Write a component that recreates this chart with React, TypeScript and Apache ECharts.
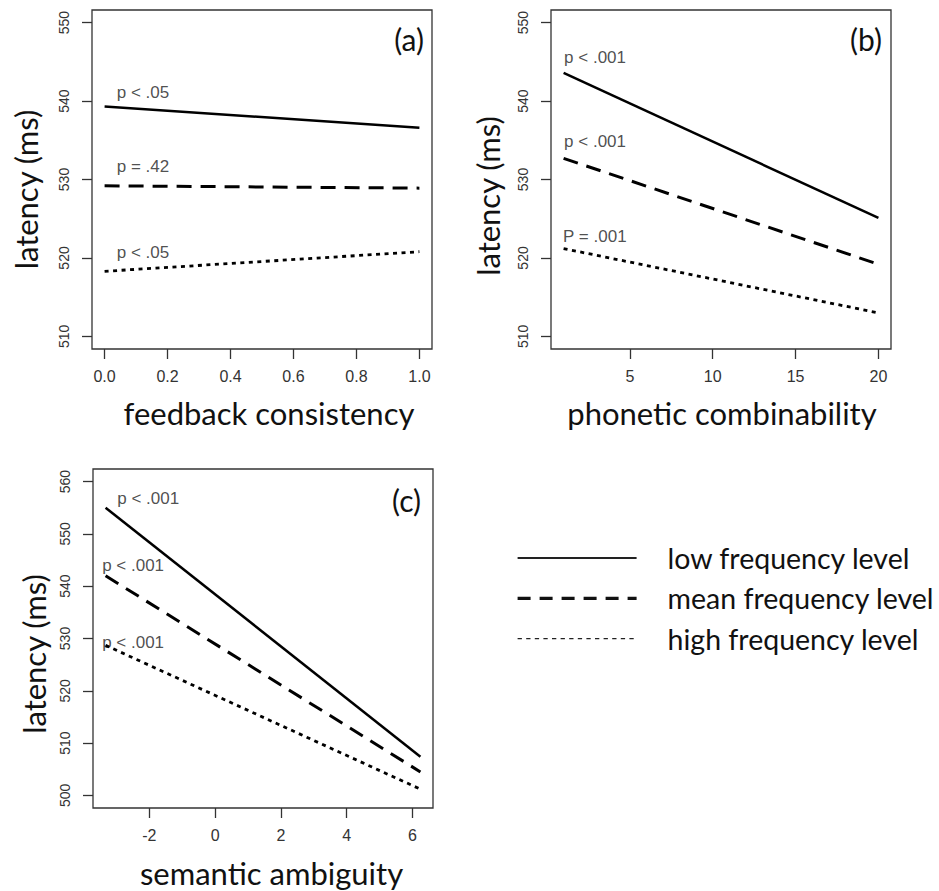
import React, { useEffect, useRef } from "react";
import * as echarts from "echarts";

// ---------- data ----------
const LEVELS = ["low frequency level", "mean frequency level", "high frequency level"];

// panel (a) feedback consistency
const xA = [0, 1];
const lowA = [539.3, 536.6];
const meanA = [529.2, 528.9];
const highA = [518.3, 520.8];
const pTextA = ["p < .05", "p = .42", "p < .05"];
const pXA = [0.037, 0.037, 0.037];
const pYA = [541.1, 531.6, 520.7];

// panel (b) phonetic combinability
const xB = [1, 20];
const lowB = [543.6, 525.1];
const meanB = [532.7, 519.2];
const highB = [521.2, 513.0];
const pTextB = ["p < .001", "p < .001", "P = .001"];
const pXB = [1.0, 1.0, 0.94];
const pYB = [545.6, 534.8, 522.8];

// panel (c) semantic ambiguity
const xC = [-3.33, 6.24];
const lowC = [555.0, 507.4];
const meanC = [542.0, 504.5];
const highC = [528.7, 501.2];
const pTextC = ["p < .001", "p < .001", "p < .001"];
const pXC = [-2.99, -3.45, -3.45];
const pYC = [556.7, 543.9, 529.2];

// tick labels
const ticksXA = [0, 0.2, 0.4, 0.6, 0.8, 1.0];
const ticksXB = [5, 10, 15, 20];
const ticksXC = [-2, 0, 2, 4, 6];
const ticksYAB = [510, 520, 530, 540, 550];
const ticksYC = [500, 510, 520, 530, 540, 550, 560];

const TITLE_FONT = "Lato, 'Open Sans', sans-serif";
const TICK_FONT = "'Liberation Sans', Arial, sans-serif";

function ext(lo: number, hi: number) {
  const d = (hi - lo) * 0.04;
  return { min: lo - d, max: hi + d };
}

const LINE_STYLES = [
  { type: "solid", width: 2.5 },
  { type: [15, 9], width: 3 },
  { type: [4, 4.5], width: 2.8 },
];

export default function App() {
  const ref = useRef<HTMLDivElement>(null);

  useEffect(() => {
    if (!ref.current) return;
    const chart = echarts.init(ref.current, null, { renderer: "svg" });

    const grids = [
      { left: 92, top: 10, width: 340, height: 339 },
      { left: 551, top: 10, width: 340, height: 339 },
      { left: 93, top: 469, width: 340, height: 339 },
    ].map((g) => ({
      ...g,
      show: true,
      borderColor: "#333",
      borderWidth: 1.3,
      backgroundColor: "transparent",
    }));

    const xDefs = [
      { r: ext(0, 1), ticks: ticksXA, fmt: (v: number) => v.toFixed(1) },
      { r: ext(1, 20), ticks: ticksXB, fmt: (v: number) => String(v) },
      { r: ext(xC[0], xC[1]), ticks: ticksXC, fmt: (v: number) => String(v) },
    ];
    const yDefs = [
      { r: ext(510, 550), ticks: ticksYAB },
      { r: ext(510, 550), ticks: ticksYAB },
      { r: ext(500, 560), ticks: ticksYC },
    ];

    const xAxis = xDefs.map((d, i) => ({
      type: "value",
      gridIndex: i,
      position: "bottom",
      min: d.r.min,
      max: d.r.max,
      axisLine: { show: false, onZero: false },
      splitLine: { show: false },
      axisTick: {
        show: true,
        inside: false,
        length: 10,
        customValues: d.ticks,
        lineStyle: { color: "#333", width: 1.3 },
      },
      axisLabel: {
        customValues: d.ticks,
        formatter: d.fmt,
        margin: 19,
        color: "#333",
        fontFamily: TICK_FONT,
        fontSize: 16,
      },
    }));

    const yAxis = yDefs.map((d, i) => ({
      type: "value",
      gridIndex: i,
      position: "left",
      min: d.r.min,
      max: d.r.max,
      axisLine: { show: false, onZero: false },
      splitLine: { show: false },
      axisTick: {
        show: true,
        inside: false,
        length: 10,
        customValues: d.ticks,
        lineStyle: { color: "#333", width: 1.3 },
      },
      axisLabel: {
        customValues: d.ticks,
        rotate: 90,
        margin: 21,
        color: "#333",
        fontFamily: TICK_FONT,
        fontSize: 14,
      },
    }));

    const panels = [
      { x: xA, ys: [lowA, meanA, highA], pt: pTextA, px: pXA, py: pYA },
      { x: xB, ys: [lowB, meanB, highB], pt: pTextB, px: pXB, py: pYB },
      { x: xC, ys: [lowC, meanC, highC], pt: pTextC, px: pXC, py: pYC },
    ];

    const series: any[] = [];
    panels.forEach((p, gi) => {
      p.ys.forEach((ys, li) => {
        series.push({
          type: "line",
          name: LEVELS[li],
          xAxisIndex: gi,
          yAxisIndex: gi,
          symbol: "none",
          silent: true,
          itemStyle: { color: "#000" },
          lineStyle: { color: "#000", ...LINE_STYLES[li] },
          data: p.x.map((xv, k) => [xv, ys[k]]),
        });
      });
      series.push({
        type: "scatter",
        name: "annotations-" + gi,
        xAxisIndex: gi,
        yAxisIndex: gi,
        symbolSize: 1,
        silent: true,
        itemStyle: { color: "transparent" },
        label: {
          show: true,
          position: "right",
          distance: 0,
          formatter: "{b}",
          color: "#222",
          fontFamily: TICK_FONT,
          fontSize: 17,
        },
        labelLayout: { hideOverlap: false },
        data: p.pt.map((t, k) => ({ name: t, value: [p.px[k], p.py[k]] })),
      });
    });

    const titleStyle = { fontFamily: TITLE_FONT, fontSize: 31, fill: "#111", align: "center", verticalAlign: "middle" };
    const letterStyle = { fontFamily: TITLE_FONT, fontSize: 30, fill: "#111", align: "right", verticalAlign: "middle" };

    const graphic: any[] = [
      { type: "text", x: 26, y: 189.5, rotation: Math.PI / 2, style: { ...titleStyle, text: "latency (ms)" } },
      { type: "text", x: 488, y: 196, rotation: Math.PI / 2, style: { ...titleStyle, text: "latency (ms)" } },
      { type: "text", x: 34, y: 654, rotation: Math.PI / 2, style: { ...titleStyle, text: "latency (ms)" } },
      { type: "text", x: 269, y: 413, style: { ...titleStyle, text: "feedback consistency" } },
      { type: "text", x: 722, y: 413, style: { ...titleStyle, text: "phonetic combinability" } },
      { type: "text", x: 271.5, y: 873, style: { ...titleStyle, text: "semantic ambiguity" } },
      { type: "text", x: 424, y: 39, style: { ...letterStyle, text: "(a)" } },
      { type: "text", x: 882, y: 39, style: { ...letterStyle, text: "(b)" } },
      { type: "text", x: 421, y: 500, style: { ...letterStyle, text: "(c)" } },
    ];

    chart.setOption({
      animation: false,
      backgroundColor: "#fff",
      grid: grids,
      xAxis,
      yAxis,
      series,
      graphic,
      legend: {
        orient: "vertical",
        left: 516,
        top: 543,
        padding: 0,
        itemWidth: 119,
        itemHeight: 20,
        itemGap: 10.3,
        selectedMode: false,
        itemStyle: { opacity: 0 },
        textStyle: {
          fontFamily: TITLE_FONT,
          fontSize: 28.5,
          color: "#111",
          lineHeight: 30,
          padding: [0, 0, 0, 26],
        },
        data: [
          { name: LEVELS[0], itemStyle: { opacity: 0 }, lineStyle: { color: "#222", type: "solid", width: 2.2 } },
          { name: LEVELS[1], itemStyle: { opacity: 0 }, lineStyle: { color: "#111", type: [13, 9], width: 3.2 } },
          { name: LEVELS[2], itemStyle: { opacity: 0 }, lineStyle: { color: "#222", type: [4.3, 4.3], width: 1.2 } },
        ],
      },
    });

    return () => chart.dispose();
  }, []);

  return (
    <div
      ref={ref}
      style={{ position: "absolute", left: 0, top: 0, width: 939, height: 891 }}
    />
  );
}
